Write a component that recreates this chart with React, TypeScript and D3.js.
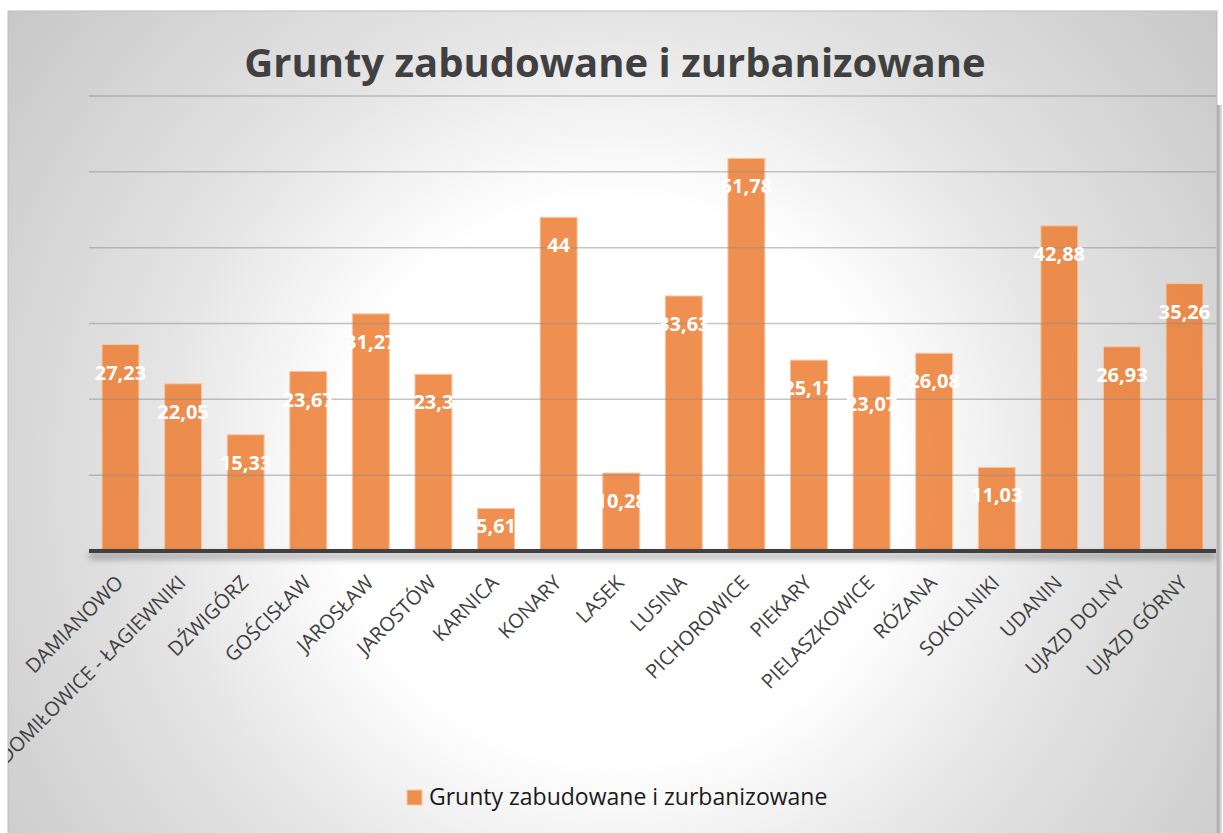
import React, { useEffect, useRef } from 'react';
import * as d3 from 'd3';

const categories = [
  'DAMIANOWO', 'DOMIŁOWICE - ŁAGIEWNIKI', 'DŹWIGÓRZ', 'GOŚCISŁAW', 'JAROSŁAW', 'JAROSTÓW',
  'KARNICA', 'KONARY', 'LASEK', 'LUSINA', 'PICHOROWICE', 'PIEKARY', 'PIELASZKOWICE',
  'RÓŻANA', 'SOKOLNIKI', 'UDANIN', 'UJAZD DOLNY', 'UJAZD GÓRNY',
];
const values = [
  27.23, 22.05, 15.33, 23.67, 31.27, 23.3, 5.61, 44, 10.28, 33.63, 51.78, 25.17, 23.07,
  26.08, 11.03, 42.88, 26.93, 35.26,
];
const gridTicks = [10, 20, 30, 40, 50, 60];
const title = 'Grunty zabudowane i zurbanizowane';
const seriesName = 'Grunty zabudowane i zurbanizowane';

const W = 1223;
const H = 833;

const App = () => {
  const svgRef = useRef<SVGSVGElement>(null);

  useEffect(() => {
    const svg = d3.select(svgRef.current);
    svg.selectAll('*').remove();

    const left = 89, right = 1216, base = 551, top = 96;
    const font = '"Open Sans", "DejaVu Sans", sans-serif';

    const x = d3.scaleBand<string>()
      .domain(categories)
      .range([left, right])
      .paddingInner(0.41)
      .paddingOuter(0.208);
    const y = d3.scaleLinear().domain([0, 60]).range([base, top]);

    const defs = svg.append('defs');
    // background: white in the middle, grey towards the frame corners
    const bg = defs.append('radialGradient')
      .attr('id', 'bg')
      .attr('gradientUnits', 'userSpaceOnUse')
      .attr('cx', 615).attr('cy', 480).attr('r', 780);
    bg.append('stop').attr('offset', 0).attr('stop-color', '#ffffff');
    bg.append('stop').attr('offset', 0.36).attr('stop-color', '#ffffff');
    bg.append('stop').attr('offset', 0.6).attr('stop-color', '#e4e4e4');
    bg.append('stop').attr('offset', 1).attr('stop-color', '#c6c6c6');

    const edge = defs.append('linearGradient').attr('id', 'edge');
    edge.append('stop').attr('offset', 0).attr('stop-color', '#8a8a8a');
    edge.append('stop').attr('offset', 1).attr('stop-color', '#e6e6e6');

    const sh = defs.append('filter').attr('id', 'axisShadow')
      .attr('x', '-5%').attr('y', '-300%').attr('width', '110%').attr('height', '800%');
    sh.append('feDropShadow')
      .attr('dx', 0).attr('dy', 5).attr('stdDeviation', 3.5)
      .attr('flood-color', '#000').attr('flood-opacity', 0.45);

    defs.append('clipPath').attr('id', 'frameClip')
      .append('rect').attr('x', 8).attr('y', 11).attr('width', 1209).attr('height', 840);

    // frame + right edge shadow
    svg.append('rect')
      .attr('x', 1216).attr('y', 105).attr('width', 6).attr('height', 740)
      .attr('fill', 'url(#edge)');
    svg.append('rect')
      .attr('x', 8).attr('y', 11).attr('width', 1209).attr('height', 840)
      .attr('fill', 'url(#bg)')
      .attr('stroke', '#bdbdbd').attr('stroke-width', 1);

    const g = svg.append('g').attr('clip-path', 'url(#frameClip)');

    // title
    g.append('text')
      .attr('x', 615).attr('y', 77)
      .attr('text-anchor', 'middle')
      .style('font-family', font)
      .style('font-weight', 700)
      .style('font-size', '40px')
      .attr('fill', '#404040')
      .text(title);

    // bars
    g.selectAll('rect.bar')
      .data(values)
      .join('rect')
      .attr('class', 'bar')
      .attr('x', (d, i) => x(categories[i])!)
      .attr('width', x.bandwidth())
      .attr('y', d => y(d))
      .attr('height', d => base - y(d))
      .attr('fill', '#ED7D31')
      .attr('fill-opacity', 0.85)
      .attr('stroke', '#f7c7a5')
      .attr('stroke-width', 1);

    // gridlines (drawn over bars, they show through faintly)
    g.selectAll('line.grid')
      .data(gridTicks)
      .join('line')
      .attr('class', 'grid')
      .attr('x1', left).attr('x2', right)
      .attr('y1', d => y(d)).attr('y2', d => y(d))
      .attr('stroke', '#8c8c8c')
      .attr('stroke-opacity', 0.5)
      .attr('stroke-width', 1.5);

    // axis line
    g.append('rect')
      .attr('x', left).attr('y', base - 2)
      .attr('width', right - left).attr('height', 4)
      .attr('fill', '#404040')
      .attr('filter', 'url(#axisShadow)');

    // data labels
    g.selectAll('text.val')
      .data(values)
      .join('text')
      .attr('class', 'val')
      .attr('x', (d, i) => x(categories[i])! + x.bandwidth() / 2)
      .attr('y', d => Math.min(y(d) + 35, base - 18))
      .attr('text-anchor', 'middle')
      .style('font-family', font)
      .style('font-weight', 700)
      .style('font-size', '20px')
      .attr('fill', '#ffffff')
      .text(d => String(d).replace('.', ','));

    // category labels
    g.selectAll('text.cat')
      .data(categories)
      .join('text')
      .attr('class', 'cat')
      .attr('transform', d => `translate(${x(d)! + x.bandwidth() / 2 + 4},${base + 33}) rotate(-45)`)
      .attr('text-anchor', 'end')
      .style('font-family', font)
      .style('font-size', '20px')
      .attr('fill', '#404040')
      .text(d => d);

    // legend
    g.append('rect')
      .attr('x', 407).attr('y', 790).attr('width', 15).attr('height', 15)
      .attr('fill', '#ED7D31').attr('fill-opacity', 0.85)
      .attr('stroke', '#f7c7a5');
    g.append('text')
      .attr('x', 429).attr('y', 805)
      .style('font-family', font)
      .style('font-size', '23px')
      .attr('fill', '#1a1a1a')
      .text(seriesName);
  }, []);

  return (
    <div style={{ position: 'absolute', left: 0, top: 0, width: W, height: H, overflow: 'hidden' }}>
      <svg ref={svgRef} width={W} height={H} style={{ display: 'block', background: '#fff' }} />
    </div>
  );
};

export default App;
